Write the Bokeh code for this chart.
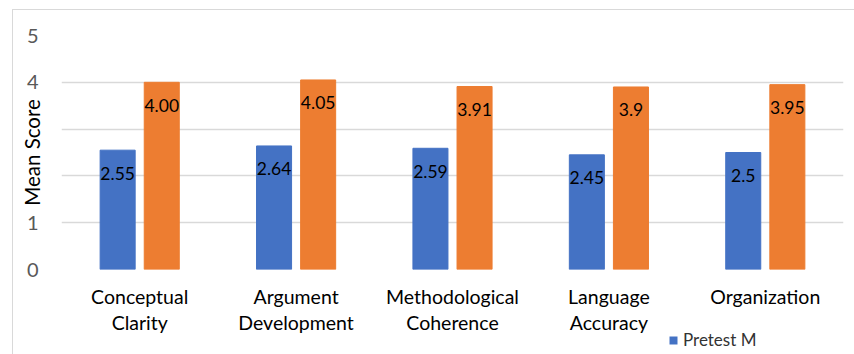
from bokeh.plotting import figure
from bokeh.layouts import column
from bokeh.models import (ColumnDataSource, FactorRange, Range1d, Legend,
                          LegendItem, FixedTicker)
from bokeh.transform import dodge
from bokeh.core.properties import value
from bokeh.embed import file_html
from bokeh.resources import INLINE

categories = ["Conceptual\nClarity", "Argument\nDevelopment", "Methodological\nCoherence",
              "Language\nAccuracy", "Organization"]
pretest = [2.55, 2.64, 2.59, 2.45, 2.50]
posttest = [4.00, 4.05, 3.91, 3.90, 3.95]
pretest_labels = ["2.55", "2.64", "2.59", "2.45", "2.5"]
posttest_labels = ["4.00", "4.05", "3.91", "3.9", "3.95"]
y_ticks = [0, 1, 2, 3, 4, 5]
legend_labels = ["Pretest M"]

FONT = "Lato"
BLUE = "#4472C4"
ORANGE = "#ED7D31"
GRID = "#d9d9d9"

src = ColumnDataSource(dict(cat=categories, pre=pretest, post=posttest,
                            pre_lbl=pretest_labels, post_lbl=posttest_labels))

p = figure(width=842, height=327, x_range=FactorRange(*categories),
           y_range=Range1d(0, 5), output_backend="svg", toolbar_location=None,
           min_border_left=48, min_border_right=12, min_border_top=25,
           min_border_bottom=68)
p.outline_line_color = None
p.background_fill_color = "white"
p.border_fill_color = "white"

r_pre = p.vbar(x=dodge("cat", -0.141, range=p.x_range), top="pre", width=0.224,
               source=src, fill_color=BLUE, line_color=BLUE)
r_post = p.vbar(x=dodge("cat", 0.141, range=p.x_range), top="post", width=0.224,
                source=src, fill_color=ORANGE, line_color=ORANGE)

p.text(x=dodge("cat", -0.141, range=p.x_range), y="pre", text="pre_lbl", source=src,
       y_offset=23, text_align="center", text_baseline="middle",
       text_font=value(FONT), text_font_size="17.5px", text_color="black")
p.text(x=dodge("cat", 0.141, range=p.x_range), y="post", text="post_lbl", source=src,
       y_offset=23, text_align="center", text_baseline="middle",
       text_font=value(FONT), text_font_size="17.5px", text_color="black")

# axes
p.xgrid.grid_line_color = None
p.ygrid.grid_line_color = GRID
p.ygrid.grid_line_width = 1.5
p.yaxis.ticker = FixedTicker(ticks=y_ticks)
p.yaxis.major_label_overrides = {2: "", 3: ""}
for ax in (p.xaxis[0], p.yaxis[0]):
    ax.axis_line_color = None
    ax.major_tick_line_color = None
    ax.minor_tick_line_color = None
    ax.major_tick_out = 0
    ax.major_tick_in = 0
    ax.major_label_text_font = FONT
p.yaxis.major_label_text_font_size = "20px"
p.yaxis.major_label_text_color = "#595959"
p.yaxis.major_label_standoff = 23
p.yaxis.axis_label = "Mean Score"
p.yaxis.axis_label_text_font = FONT
p.yaxis.axis_label_text_font_size = "20.5px"
p.yaxis.axis_label_text_font_style = "normal"
p.yaxis.axis_label_text_color = "black"
p.yaxis.axis_label_standoff = -20
p.xaxis.major_label_text_font_size = "19.5px"
p.xaxis.major_label_text_color = "black"
p.xaxis.major_label_standoff = 15
p.xaxis.major_label_text_line_height = 1.15

# legend strip (separate small figure, overlapping slightly, transparent)
p2 = figure(width=842, height=26, x_range=Range1d(0, 1), y_range=Range1d(0, 1),
            output_backend="svg", toolbar_location=None,
            min_border_left=0, min_border_right=0, min_border_top=0, min_border_bottom=0)
p2.axis.visible = False
p2.grid.visible = False
p2.outline_line_color = None
p2.background_fill_alpha = 0
p2.border_fill_alpha = 0
p2.styles = {"margin-top": "-8px"}
leg_src = ColumnDataSource(dict(x=[0.5], top=[0]))
r_leg = p2.vbar(x="x", top="top", width=0.01, source=leg_src,
                fill_color=BLUE, line_color=None)
legend = Legend(items=[LegendItem(label=legend_labels[0], renderers=[r_leg])],
                location=(607, 5), padding=0, margin=0, border_line_color=None,
                background_fill_alpha=0, glyph_width=10, glyph_height=10,
                label_standoff=5, label_text_font=FONT, label_text_font_size="17px",
                label_text_color="#333333")
p2.add_layout(legend, "center")

layout = column(p, p2, spacing=0)
layout.styles = {"margin-left": "12px", "margin-top": "9px",
                 "border-left": "1px solid #d9d9d9", "border-top": "1px solid #d9d9d9"}

open("out.html", "w").write(file_html(layout, INLINE))
